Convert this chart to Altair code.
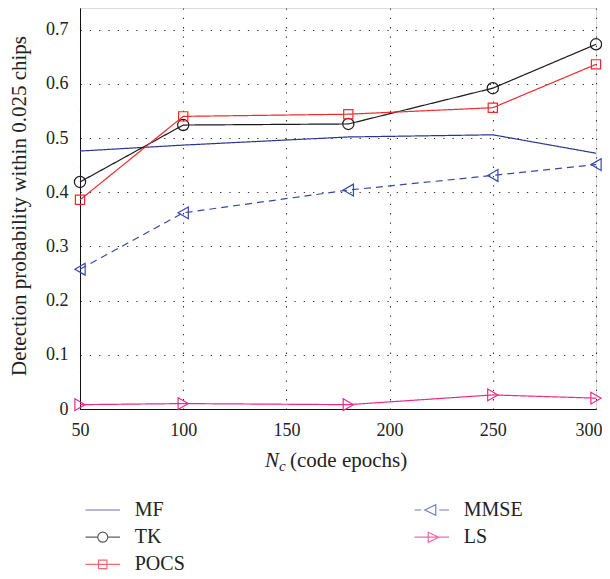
import altair as alt
import pandas as pd

nc = [50, 100, 180, 250, 300]
mf = [0.476, 0.487, 0.502, 0.506, 0.472]
tk = [0.419, 0.524, 0.526, 0.592, 0.673]
pocs = [0.386, 0.540, 0.544, 0.556, 0.636]
mmse = [0.258, 0.362, 0.404, 0.431, 0.451]
ls = [0.008, 0.010, 0.008, 0.026, 0.020]

series_names = ["MF", "TK", "POCS", "MMSE", "LS"]
series_values = [mf, tk, pocs, mmse, ls]
colors = {"MF": "#2b3592", "TK": "#1a1a1a", "POCS": "#ef2a30", "MMSE": "#3a47aa", "LS": "#ea2a8c"}
dashes = {"MF": [1, 0], "TK": [1, 0], "POCS": [1, 0], "MMSE": [7, 5], "LS": [1, 0]}

rows = []
for name, vals in zip(series_names, series_values):
    for x, y in zip(nc, vals):
        rows.append({"Nc": x, "P": y, "series": name})
df = pd.DataFrame(rows)

FONT = "Liberation Serif"
W, H = 516, 401

xscale = alt.Scale(domain=[50, 300], nice=False)
yscale = alt.Scale(domain=[0, 0.74], nice=False)

xaxis = alt.Axis(values=[50, 100, 150, 200, 250, 300], title=None, labelFont=FONT,
                 labelFontSize=18, labelColor="#222", labelPadding=12, ticks=False,
                 grid=True, gridDash=[1.3, 8], gridColor="#333", gridWidth=1.1,
                 domainColor="#111", labelFlush=False,
                 labelAlign={"condition": {"test": "datum.value == 300", "value": "right"}, "value": "center"},
                 labelOffset={"condition": {"test": "datum.value == 300", "value": 6}, "value": 0})
yaxis = alt.Axis(values=[0, 0.1, 0.2, 0.3, 0.4, 0.5, 0.6, 0.7],
                 labelExpr="datum.value == 0 ? '0' : format(datum.value, '.1f')",
                 title="Detection probability within 0.025 chips", titleFont=FONT,
                 titleFontSize=21, titleFontWeight="normal", titleColor="#222",
                 titleAngle=270, titleX=-61, titleY=H / 2 - 3, titleAlign="center",
                 titleBaseline="middle",
                 labelFont=FONT, labelFontSize=18, labelColor="#222", labelPadding=12,
                 ticks=False, grid=True, gridDash=[1.3, 8], gridColor="#333",
                 gridWidth=1.1, domainColor="#111")

base = alt.Chart(df)
order = series_names
lines = base.mark_line(strokeWidth=1.2).encode(
    x=alt.X("Nc:Q", scale=xscale, axis=xaxis),
    y=alt.Y("P:Q", scale=yscale, axis=yaxis),
    color=alt.Color("series:N", scale=alt.Scale(domain=order, range=[colors[s] for s in order]), legend=None),
    strokeDash=alt.StrokeDash("series:N", scale=alt.Scale(domain=order, range=[dashes[s] for s in order]), legend=None),
)

marker_defs = [("TK", "circle", 125), ("POCS", "square", 85), ("MMSE", "triangle-left", 140), ("LS", "triangle-right", 140)]
pts = []
for name, shp, sz in marker_defs:
    pts.append(
        base.transform_filter(alt.datum.series == name).mark_point(
            shape=shp, size=sz, filled=False, strokeWidth=1.2, color=colors[name], opacity=1
        ).encode(x=alt.X("Nc:Q", axis=xaxis), y=alt.Y("P:Q", axis=yaxis))
    )

# legend symbol paths (unit = 10 px, line half-length 1.725)
L = 1.725
sym = {
    "MF": f"M-{L},0L{L},0",
    "TK": f"M-{L},0L-0.5,0M0.5,0L{L},0M-0.5,0A0.5,0.5 0 1,0 0.5,0A0.5,0.5 0 1,0 -0.5,0",
    "POCS": f"M-{L},0L{L},0M-0.42,-0.42L0.42,-0.42L0.42,0.42L-0.42,0.42Z",
    "MMSE": f"M-{L},0L-1.05,0M-0.7,0L0.4,-0.52L0.4,0.52ZM0.75,0L{L},0",
    "LS": f"M-{L},0L{L},0M-0.35,-0.5L0.7,0L-0.35,0.5Z",
}
leg_order = series_names
leg = alt.Legend(title=None, orient="none", legendX=11.75, legendY=491, columns=2,
                 columnPadding=226, rowPadding=6.2, labelFont=FONT, labelFontSize=20,
                 labelColor="#222", labelOffset=21, symbolSize=400, symbolStrokeWidth=1.2,
                 symbolFillColor="transparent", padding=0, offset=0)
legend_layer = base.transform_filter("false").mark_point(size=400, filled=False, strokeWidth=1.2).encode(
    x=alt.X("Nc:Q", axis=xaxis), y=alt.Y("P:Q", axis=yaxis),
    shape=alt.Shape("series:N", scale=alt.Scale(domain=leg_order, range=[sym[s] for s in leg_order]), legend=leg),
    stroke=alt.Stroke("series:N", scale=alt.Scale(domain=leg_order, range=[colors[s] for s in leg_order]), legend=leg),
)

title_data = alt.Data(values=[{"k": 1}])
tN = alt.Chart(title_data).mark_text(text="N", font=FONT, fontSize=21, fontStyle="italic", align="left", baseline="alphabetic", color="#222").encode(x=alt.value(185), y=alt.value(459))
tc = alt.Chart(title_data).mark_text(text="c", font=FONT, fontSize=15, fontStyle="italic", align="left", baseline="alphabetic", color="#222").encode(x=alt.value(199), y=alt.value(463))
tr = alt.Chart(title_data).mark_text(text="(code epochs)", font=FONT, fontSize=21, align="left", baseline="alphabetic", color="#222").encode(x=alt.value(210), y=alt.value(459))

chart = alt.layer(lines, *pts, legend_layer, tN, tc, tr).resolve_scale(
    color="independent", shape="independent", stroke="independent", strokeDash="independent"
).properties(
    width=W, height=H,
    autosize=alt.AutoSizeParams(type="none"),
    padding={"left": 72, "top": 0, "right": 6, "bottom": 162},
).configure_view(stroke="#111", strokeWidth=1.2).configure_axis(
    labelFont=FONT, titleFont=FONT
).configure(background="white", font=FONT)

chart.save("out.html", embed_options={"renderer": "svg", "actions": False})
